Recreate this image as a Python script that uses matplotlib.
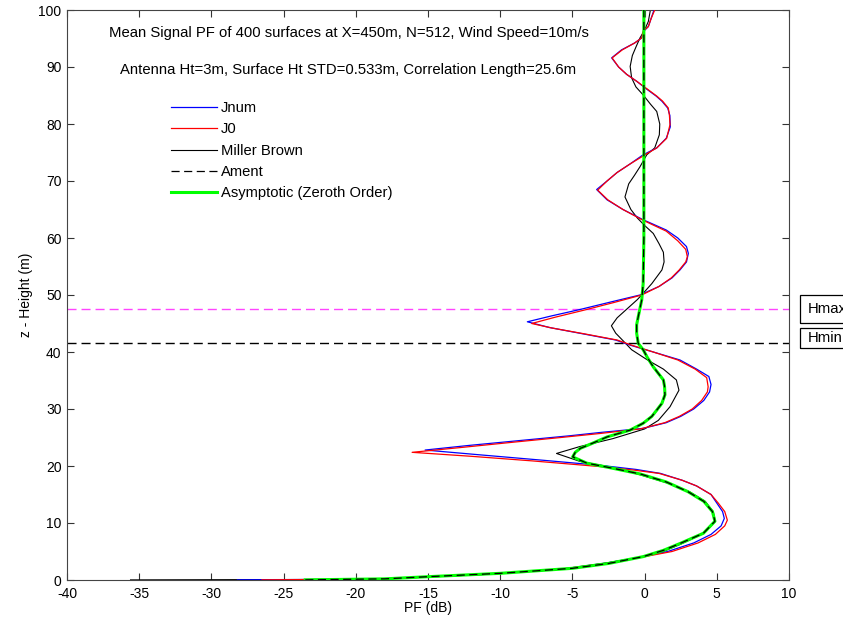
import matplotlib
matplotlib.use("Agg")
import matplotlib.pyplot as plt
from matplotlib.patches import Rectangle

plt.rcParams['font.family'] = ['Liberation Sans', 'DejaVu Sans']
plt.rcParams['axes.unicode_minus'] = False

# ---- Mean signal propagation factor profiles (height z in m, PF in dB) ----
jnum_z = [0.02, 0.10, 0.20, 0.50, 1.00, 1.50, 2.00, 3.00, 4.00, 5.00, 6.50, 8.00, 9.50, 10.8,
          12.0, 13.5, 15.0, 16.5, 17.5, 18.7, 19.4, 20.1, 21.0, 22.0, 22.8, 23.6, 24.5, 25.3,
          25.9, 26.6, 27.6, 28.7, 30.0, 31.5, 33.0, 34.3, 35.7, 37.0, 38.6, 40.0, 41.2, 42.1,
          43.2, 44.3, 45.3, 46.3, 47.5, 48.8, 50.0, 51.5, 53.0, 54.4, 55.8, 57.3, 58.5, 60.0,
          61.4, 63.2, 65.0, 66.7, 68.5, 70.0, 71.5, 73.0, 74.6, 75.8, 77.5, 79.5, 81.5, 82.8,
          84.0, 84.9, 86.2, 87.5, 88.7, 90.0, 91.6, 93.0, 94.2, 95.1, 96.3, 97.1, 98.5, 100.0]
jnum_pf = [-28.2, -22.5, -18.5, -15.3, -11.0, -8.0, -5.5, -2.6, -0.3, 1.6, 3.4, 4.6, 5.3, 5.52,
           5.4, 5.0, 4.6, 3.6, 2.6, 1.1, -0.6, -3.0, -7.0, -11.6, -15.2, -12.2, -8.5, -5.2,
           -3.0, -0.1, 1.5, 2.5, 3.4, 4.1, 4.5, 4.6, 4.45, 3.6, 2.45, 0.6, -1.0, -2.0,
           -4.3, -6.6, -8.12, -6.5, -4.4, -2.3, -0.32, 1.0, 1.9, 2.45, 2.9, 3.03, 2.9, 2.3,
           1.5, -0.1, -1.5, -2.6, -3.32, -2.6, -1.9, -1.0, -0.1, 0.84, 1.5, 1.78, 1.75, 1.6,
           1.2, 0.8, 0.1, -0.55, -1.24, -1.8, -2.28, -1.6, -0.7, -0.2, -0.05, 0.26, 0.45, 0.65]

j0_z = [0.02, 0.10, 0.20, 0.50, 1.00, 1.50, 2.00, 3.00, 4.00, 5.00, 6.50, 8.00, 9.50, 10.5,
        12.0, 13.5, 15.0, 16.5, 17.5, 18.7, 19.3, 19.9, 20.9, 21.7, 22.4, 23.3, 24.2, 25.0,
        25.7, 26.5, 27.6, 28.7, 30.0, 31.5, 33.0, 33.9, 35.5, 37.0, 38.6, 40.0, 41.2, 42.1,
        43.2, 44.2, 45.0, 46.1, 47.4, 48.7, 50.0, 51.5, 53.0, 54.4, 55.8, 56.7, 58.0, 59.5,
        61.2, 63.1, 65.0, 66.7, 68.4, 70.0, 71.5, 73.0, 74.6, 75.8, 77.5, 79.9, 81.5, 82.8,
        84.0, 84.9, 86.2, 87.5, 88.7, 90.0, 91.6, 93.0, 94.2, 95.1, 96.3, 97.1, 98.5, 100.0]
j0_pf = [-26.5, -22.0, -18.3, -15.2, -11.0, -8.0, -5.5, -2.5, -0.2, 1.9, 3.7, 4.9, 5.55, 5.73,
         5.55, 5.1, 4.6, 3.6, 2.6, 1.0, -0.8, -3.1, -7.8, -12.0, -16.1, -12.5, -9.0, -5.8,
         -3.1, -0.3, 1.4, 2.4, 3.3, 3.95, 4.35, 4.4, 4.3, 3.5, 2.3, 0.6, -0.9, -1.9,
         -4.2, -6.4, -7.82, -6.2, -4.1, -2.1, -0.2, 1.0, 1.85, 2.4, 2.85, 2.96, 2.85, 2.3,
         1.5, -0.1, -1.5, -2.55, -3.25, -2.6, -1.9, -1.0, 0.03, 0.84, 1.53, 1.76, 1.72, 1.64,
         1.25, 0.84, 0.15, -0.55, -1.24, -1.8, -2.25, -1.55, -0.7, -0.2, -0.1, 0.26, 0.45, 0.7]

mb_z = [0.02, 0.10, 0.20, 0.50, 1.00, 1.50, 2.00, 3.00, 4.10, 5.00, 6.40, 8.20, 10.3, 12.0,
        13.8, 15.5, 17.0, 18.3, 19.6, 20.8, 22.2, 23.4, 24.8, 26.5, 28.0, 30.4, 33.3, 35.1,
        37.0, 38.6, 40.4, 42.0, 43.3, 44.6, 46.0, 47.6, 49.2, 50.3, 52.0, 54.4, 55.8, 57.5,
        59.0, 60.8, 62.2, 63.5, 65.0, 67.2, 69.5, 71.0, 72.5, 74.6, 75.8, 78.1, 80.0, 82.2,
        83.5, 85.1, 86.5, 88.1, 90.1, 92.0, 93.5, 95.1, 96.5, 98.0, 100.0]
mb_pf = [-35.6, -22.0, -18.0, -15.2, -10.8, -7.9, -5.3, -2.6, -0.1, 1.3, 2.6, 4.1, 4.9, 4.75,
         4.2, 3.1, 1.6, -0.1, -1.9, -4.47, -6.1, -4.5, -2.2, 0.0, 0.95, 1.76, 2.38, 2.2,
         1.3, 0.2, -0.9, -1.5, -2.0, -2.3, -1.9, -1.2, -0.5, -0.1, 0.5, 1.2, 1.35, 1.3,
         1.0, 0.6, 0.0, -0.5, -0.95, -1.36, -1.1, -0.7, -0.32, 0.15, 0.7, 1.02, 1.05, 0.84,
         0.4, -0.1, -0.6, -0.9, -1.0, -0.85, -0.6, -0.32, 0.0, 0.26, 0.4]

asym_z = [0.02, 0.12, 0.20, 0.58, 1.17, 2.05, 2.90, 4.10, 5.20, 6.40, 8.20, 10.3, 12.0, 13.8,
          15.5, 17.2, 18.6, 19.6, 20.5, 21.6, 22.4, 23.1, 24.0, 25.1, 26.3, 27.5, 28.7, 29.8,
          31.0, 32.5, 34.0, 35.1, 37.4, 39.0, 40.4, 41.5, 43.3, 44.8, 46.2, 49.1, 52.0, 60.0,
          70.0, 80.0, 90.0, 100.0]
asym_pf = [-23.5, -20.5, -18.0, -15.0, -10.0, -5.0, -2.5, -0.1, 1.3, 2.45, 4.07, 4.87, 4.7, 4.1,
           3.0, 1.5, -0.3, -2.2, -4.0, -4.98, -4.8, -4.45, -3.6, -2.6, -1.0, -0.1, 0.5, 0.84,
           1.2, 1.41, 1.38, 1.3, 0.6, 0.2, -0.1, -0.44, -0.55, -0.55, -0.44, -0.2, -0.1, -0.05,
           -0.05, -0.05, -0.05, -0.05]

ament_z = [0.02, 0.12, 0.20, 0.58, 1.17, 2.05, 2.90, 4.10, 5.20, 6.40, 8.20, 10.3, 12.0, 13.8,
           15.5, 17.2, 18.6, 19.6, 20.5, 21.6, 22.4, 23.1, 24.0, 25.1, 26.3, 27.5, 28.7, 29.8,
           31.0, 32.5, 34.0, 35.1, 37.4, 39.0, 40.4, 41.5, 43.3, 44.8, 46.2, 49.1, 52.0, 60.0,
           70.0, 80.0, 90.0, 100.0]
ament_pf = [-23.5, -20.6, -18.0, -15.0, -10.0, -5.0, -2.5, -0.1, 1.3, 2.45, 4.07, 4.87, 4.7, 4.1,
            3.0, 1.5, -0.3, -2.2, -4.0, -4.98, -4.8, -4.45, -3.6, -2.6, -1.0, -0.1, 0.5, 0.84,
            1.2, 1.41, 1.38, 1.3, 0.6, 0.2, -0.1, -0.44, -0.55, -0.55, -0.44, -0.2, -0.1, -0.05,
            -0.05, -0.05, -0.05, -0.05]

# reference heights
h_max = 47.55
h_min = 41.6

x_ticks = [-40, -35, -30, -25, -20, -15, -10, -5, 0, 5, 10]
y_ticks = [0, 10, 20, 30, 40, 50, 60, 70, 80, 90, 100]

W, H = 843, 625
fig = plt.figure(figsize=(W / 100, H / 100), dpi=100)
ax = fig.add_axes([67 / W, 1 - 580 / H, (789 - 67) / W, (580 - 10) / H])

dash = (0, (6.5, 3.6))
l_mb, = ax.plot(mb_pf, mb_z, color='black', lw=0.8, zorder=2, label='Miller Brown')
l_jn, = ax.plot(jnum_pf, jnum_z, color='blue', lw=0.9, zorder=3, label='Jnum')
l_j0, = ax.plot(j0_pf, j0_z, color='red', lw=0.9, zorder=4, label='J0')
l_as, = ax.plot(asym_pf, asym_z, color='#00ff00', lw=2.2, zorder=5,
                label='Asymptotic (Zeroth Order)')
l_am, = ax.plot(ament_pf, ament_z, color='black', lw=0.9, ls=dash, zorder=6, label='Ament')

ax.axhline(h_max, color='#ff44ff', lw=1.0, ls=dash, zorder=1)
ax.axhline(h_min, color='black', lw=1.0, ls=dash, zorder=1)

ax.set_xlim(-40, 10)
ax.set_ylim(0, 100)
ax.set_xticks(x_ticks)
ax.set_yticks(y_ticks)
ax.tick_params(direction='in', top=True, right=True, length=5, width=0.8,
               labelsize=10, colors='#333333', labelcolor='black')
ax.tick_params(axis='x', pad=5)
ax.tick_params(axis='y', pad=4)
for s in ax.spines.values():
    s.set_color('#444444')
    s.set_linewidth(0.8)

ax.set_xlabel('PF (dB)', fontsize=10, labelpad=0)
ax.set_ylabel('z - Height (m)', fontsize=10, labelpad=4)

ax.text(-37.1, 95.9, 'Mean Signal PF of 400 surfaces at X=450m, N=512, Wind Speed=10m/s',
        fontsize=10.7, ha='left', va='center')
ax.text(-36.3, 89.5, 'Antenna Ht=3m, Surface Ht STD=0.533m, Correlation Length=25.6m',
        fontsize=10.7, ha='left', va='center')

leg = ax.legend(handles=[l_jn, l_j0, l_mb, l_am, l_as], loc='upper left',
                bbox_to_anchor=(171 / W, 1 - 101 / H), bbox_transform=fig.transFigure,
                frameon=False, fontsize=10.6, handlelength=3.1, handletextpad=0.27,
                labelspacing=0.5, borderaxespad=0, borderpad=0)

# boxed level markers outside the axes
for y0, y1, label in [(295, 323, 'Hmax'), (328, 348, 'Hmin')]:
    fig.patches.append(Rectangle((800 / W, 1 - y1 / H), 60 / W, (y1 - y0) / H,
                                 transform=fig.transFigure, fill=False,
                                 edgecolor='black', lw=0.9))
    fig.text(808 / W, 1 - (y0 + y1) / 2 / H, label, fontsize=10.7, ha='left', va='center')

fig.savefig('out.png', dpi=100)
